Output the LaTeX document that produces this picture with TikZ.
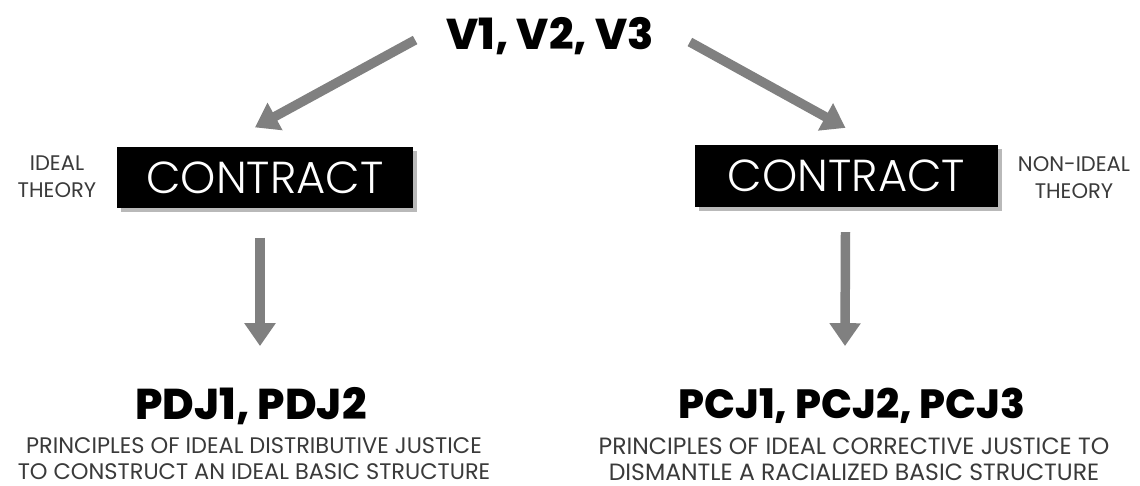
\documentclass[tikz,border=0pt]{standalone}
\usepackage{fontspec}
\setmainfont{Poppins}
\newfontfamily\headfont{Poppins ExtraBold}
\newfontfamily\thinfont{Poppins Light}
\usetikzlibrary{arrows.meta,calc}

\definecolor{arrowgray}{HTML}{808080}
\definecolor{textgray}{HTML}{3A3A3A}

\tikzset{
  arr/.style={arrowgray, line width=5.4pt, -{Triangle[width=17pt,length=13pt]}},
  headtxt/.style={font=\headfont\fontsize{24.5}{27}\selectfont},
  contract/.style={fill=black, text=white, minimum height=35pt,
    font=\thinfont\fontsize{25.5}{27}\selectfont, inner sep=0pt},
  sidenote/.style={textgray, align=center, font=\fontsize{12}{15.5}\selectfont},
  desc/.style={textgray, align=center, font=\fontsize{12.8}{14.8}\selectfont}
}

\begin{document}
\begin{tikzpicture}[x=0.02cm, y=-0.02cm]
  \useasboundingbox (0,0) rectangle (1140,486);

  \node[headtxt] (vs) at (550,36) {V1, V2, V3};

  % the two contract boxes, with a soft shadow
  \fill[gray!55] (121,151) rectangle (417,212);
  \fill[gray!55] (699,149) rectangle (1002,211);
  \node[contract, minimum width=168pt] (lcon) at (265,177.5) {CONTRACT};
  \node[contract, minimum width=172pt] (rcon) at (846.5,176) {CONTRACT};

  \node[sidenote] (lnote) at (57,177) {IDEAL\\THEORY};
  \node[sidenote] (rnote) at (1074,178) {NON-IDEAL\\THEORY};

  \node[headtxt] (lout) at (251,406) {PDJ1, PDJ2};
  \node[headtxt, font=\headfont\fontsize{23.2}{26}\selectfont] (rout) at (852,406) {PCJ1, PCJ2, PCJ3};

  \node[desc] (ldesc) at (254,459) {PRINCIPLES OF IDEAL DISTRIBUTIVE JUSTICE\\TO CONSTRUCT AN IDEAL BASIC STRUCTURE};
  \node[desc, font=\fontsize{13.4}{14.8}\selectfont] (rdesc) at (854,459) {PRINCIPLES OF IDEAL CORRECTIVE JUSTICE TO\\DISMANTLE A RACIALIZED BASIC STRUCTURE};

  \draw[arr] ($(vs.west)+(-25,4)$) -- ($(lcon.north)+(-10,-19)$);
  \draw[arr] ($(vs.east)+(30,6)$) -- ($(rcon.north)+(-1,-17)$);
  \draw[arr] ($(lcon.south)+(-5,29)$) -- ($(lout.north)+(9,-35)$);
  \draw[arr] ($(rcon.south)+(-1,25)$) -- ($(rout.north)+(-7,-36)$);
\end{tikzpicture}
\end{document}
